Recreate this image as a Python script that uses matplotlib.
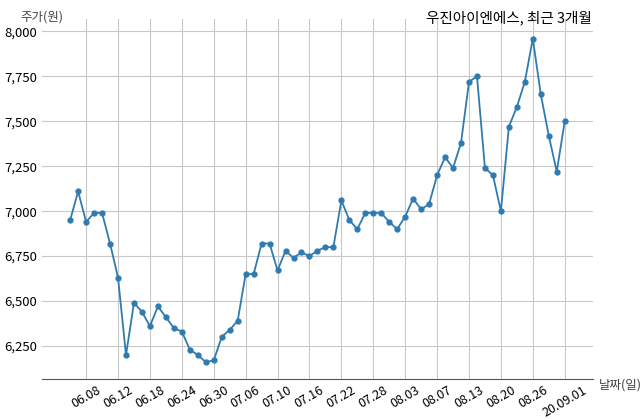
import matplotlib
matplotlib.use("Agg")
import matplotlib.pyplot as plt
from matplotlib.ticker import FuncFormatter

plt.rcParams["font.family"] = "Noto Sans CJK KR"

prices = [6950, 7110, 6940, 6990, 6990, 6820, 6630, 6200, 6490, 6440, 6360, 6470, 6410, 6350, 6330,
          6230, 6200, 6160, 6170, 6300, 6340, 6390, 6650, 6650, 6820, 6820, 6670, 6780, 6740, 6770,
          6750, 6780, 6800, 6800, 7060, 6950, 6900, 6990, 6990, 6990, 6940, 6900, 6970, 7070, 7010,
          7040, 7200, 7300, 7240, 7380, 7720, 7750, 7240, 7200, 7000, 7470, 7580, 7720, 7960, 7650,
          7420, 7220, 7500]
tick_labels = ["06.08", "06.12", "06.18", "06.24", "06.30", "07.06", "07.10", "07.16", "07.22",
               "07.28", "08.03", "08.07", "08.13", "08.20", "08.26", "20.09.01"]
tick_idx = list(range(2, len(prices), 4))
y_ticks = [6250, 6500, 6750, 7000, 7250, 7500, 7750, 8000]

fig = plt.figure(figsize=(6.4, 4.19), dpi=100)
ax = fig.add_axes([0.066, 0.095, 0.86, 0.86])
x = list(range(len(prices)))
ax.plot(x, prices, color="#2f7bb0", marker="o", markersize=3.5, linewidth=1.3)
ax.set_xticks(tick_idx)
ax.set_xticklabels(tick_labels, rotation=30, fontsize=9)
ax.set_yticks(y_ticks)
ax.yaxis.set_major_formatter(FuncFormatter(lambda v, p: f"{int(v):,}"))
ax.tick_params(axis="y", labelsize=9.5, length=0)
ax.tick_params(axis="x", length=0)
ax.set_xlim(-3.5, 65.5)
ax.set_ylim(6065, 8070)
ax.grid(True, color="#c8c8c8", linewidth=0.8)
for s in ["top", "right", "left"]:
    ax.spines[s].set_visible(False)
ax.spines["bottom"].set_color("#555555")
fig.text(0.066, 0.975, "주가(원)", fontsize=9, color="#444444", ha="center", va="top")
fig.text(0.925, 0.975, "우진아이엔에스, 최근 3개월", fontsize=10.5, ha="right", va="top")
fig.text(0.935, 0.08, "날짜(일)", fontsize=9, color="#444444", ha="left", va="center")
fig.savefig("out.png", dpi=100)
